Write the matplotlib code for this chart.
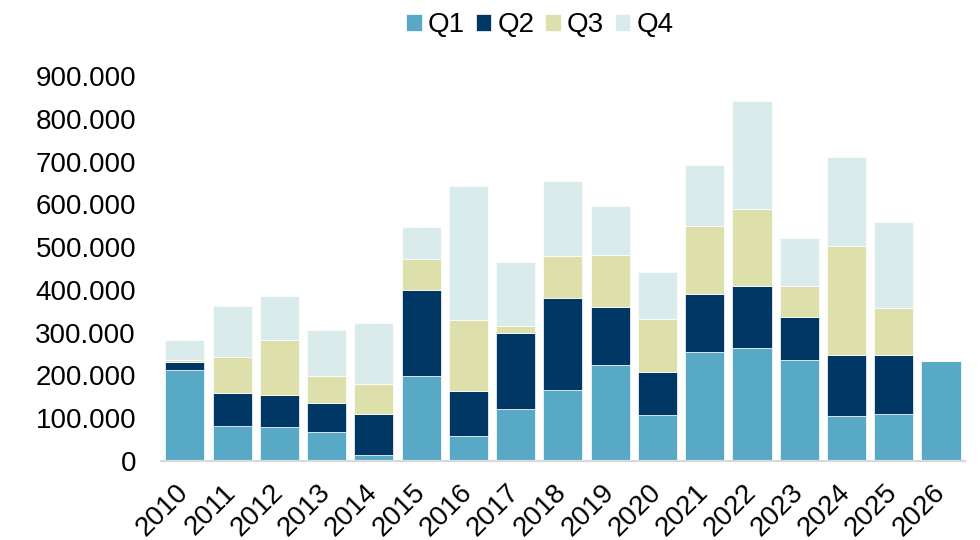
import numpy as np
import matplotlib
matplotlib.use("Agg")
import matplotlib.pyplot as plt
from matplotlib.transforms import ScaledTranslation

plt.rcParams['font.family'] = ['Liberation Sans', 'DejaVu Sans']

# values
years = ["2010", "2011", "2012", "2013", "2014", "2015", "2016", "2017", "2018",
         "2019", "2020", "2021", "2022", "2023", "2024", "2025", "2026"]
q1 = [213000, 82000, 79000, 67000, 14000, 199000, 58000, 121000, 166000,
      224000, 107000, 255000, 263000, 237000, 105000, 110000, 234000]
q2 = [19000, 78000, 76000, 69000, 97000, 200000, 105000, 178000, 214000,
      137000, 100000, 136000, 147000, 100000, 142000, 138000, 0]
q3 = [4000, 83000, 127000, 63000, 68000, 73000, 167000, 16000, 100000,
      121000, 126000, 159000, 179000, 71000, 255000, 110000, 0]
q4 = [46000, 120000, 103000, 107000, 143000, 75000, 313000, 150000, 174000,
      115000, 108000, 142000, 252000, 114000, 208000, 201000, 0]
series = {"Q1": q1, "Q2": q2, "Q3": q3, "Q4": q4}
colors = ["#57A9C6", "#003764", "#DEE0AC", "#D9EBEB"]
yticks = np.arange(0, 900001, 100000)

fig = plt.figure(figsize=(9.8, 5.4), dpi=100)
ax = fig.add_axes([161/980, 1 - 461/540, (965 - 161)/980, (461 - 76)/540])

x = np.arange(len(years))
bottom = np.zeros(len(years))
for (name, vals), col in zip(series.items(), colors):
    vals = np.array(vals, dtype=float)
    ax.bar(x, vals, 0.83, bottom=bottom, color=col, label=name,
           edgecolor="white", linewidth=0.5)
    bottom += vals

ax.set_xlim(-0.505, len(years) - 0.49)
ax.set_ylim(0, 900000)
ax.set_yticks(yticks)
ax.set_yticklabels(["0"] + ["%d.000" % (v // 1000) for v in yticks[1:]])
ax.set_xticks(x)
ax.set_xticklabels(years, rotation=45, ha="right", va="center",
                   rotation_mode="anchor")
# nudge year labels a little to the right, like the original
shift = ScaledTranslation(4/100, 0, fig.dpi_scale_trans)
for lbl in ax.get_xticklabels():
    lbl.set_transform(lbl.get_transform() + shift)

for s in ["top", "right", "left"]:
    ax.spines[s].set_visible(False)
ax.spines["bottom"].set_color("#D9D9D9")
ax.spines["bottom"].set_linewidth(1.6)
ax.tick_params(axis="both", length=0, labelsize=20, colors="black")
ax.tick_params(axis="y", pad=18)
ax.tick_params(axis="x", pad=20)

fig.legend(loc="center", bbox_to_anchor=(540/980, 1 - 25/540), ncol=4,
           frameon=False, fontsize=20, handlelength=0.55, handleheight=0.55,
           handletextpad=0.22, columnspacing=0.4)

fig.savefig("out.png", dpi=100)
